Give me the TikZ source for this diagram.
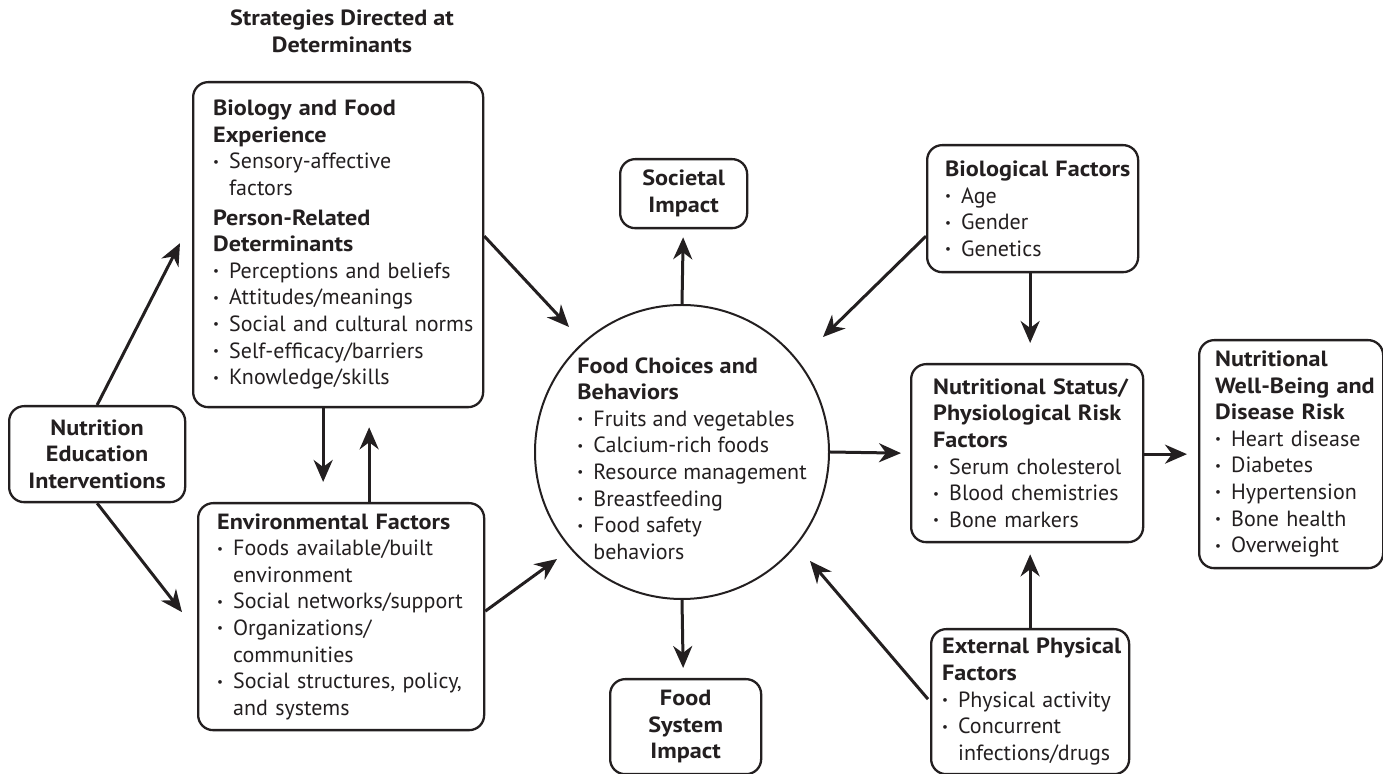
\documentclass[tikz,border=0pt]{standalone}
\usepackage{fontspec}
\setmainfont{PT Sans}[BoldFeatures={FakeStretch=1.1}]
\usepackage{graphicx}
\usetikzlibrary{arrows.meta}
\definecolor{ink}{RGB}{35,31,32}
\newcommand\bl[1]{\mbox{\makebox[8pt][l]{\raisebox{1.3pt}{\scalebox{0.6}{\textbullet}}}#1}}
\newcommand\ind[1]{\mbox{\hspace*{8pt}#1}}
\newcommand\hd[1]{\mbox{\bfseries #1}}
\hfuzz=\maxdimen
\hbadness=10000
\begin{document}
\begin{tikzpicture}[x=0.5pt,y=-0.5pt, color=ink,
  txtfont/.style={font=\fontsize{11}{13.3}\selectfont},
  txtfont,
  box/.style={draw, line width=1.15pt, rounded corners=7.5pt, inner ysep=0pt, align=left, anchor=north west, txtfont},
  cbox/.style={box, align=center, inner xsep=0pt, font=\fontsize{11}{13.3}\selectfont\bfseries},
  arr/.style={line width=1.5pt, -{Stealth[length=11pt,width=9.5pt,inset=3.5pt]}}]
\useasboundingbox (0,0) rectangle (1383,774);

\node[align=center, inner sep=0pt, font=\fontsize{11}{13.3}\selectfont\bfseries] (title) at (342,31.5) {Strategies Directed at\\Determinants};

\node[box, minimum width=145pt, minimum height=162.5pt, text width=125pt, inner xsep=10pt] (bfe) at (192,81) {%
\hd{Biology and Food}\\
\hd{Experience}\\
\bl{Sensory-affective}\\
\ind{factors}\\[1.5pt]
\hd{Person-Related}\\
\hd{Determinants}\\
\bl{Perceptions and beliefs}\\
\bl{Attitudes/meanings}\\
\bl{Social and cultural norms}\\
\bl{Self-efficacy/barriers}\\
\bl{Knowledge/skills}};

\node[box, minimum width=143pt, minimum height=113.5pt, text width=124pt, inner xsep=9.5pt] (env) at (197,502) {%
\hd{Environmental Factors}\\
\bl{Foods available/built}\\
\ind{environment}\\
\bl{Social networks/support}\\
\bl{Organizations/}\\
\ind{communities}\\
\bl{Social structures, policy,}\\
\ind{and systems}};

\node[cbox, minimum width=88pt, minimum height=48pt] (nei) at (8,405) {Nutrition\\Education\\Interventions};
\node[cbox, minimum width=63.5pt, minimum height=34.5pt] (soc) at (619,158) {Societal\\Impact};
\node[cbox, minimum width=75.5pt, minimum height=47.5pt] (fsi) at (609,678) {Food\\System\\Impact};

\node[circle, draw, line width=1pt, minimum size=147pt, inner sep=0pt] (fc) at (682,452) {};
\node[align=left, anchor=west, inner sep=0pt] (fct) at (577,458.5) {%
\hd{Food Choices and}\\
\hd{Behaviors}\\
\bl{Fruits and vegetables}\\
\bl{Calcium-rich foods}\\
\bl{Resource management}\\
\bl{Breastfeeding}\\
\bl{Food safety}\\
\ind{behaviors}};

\node[box, minimum width=105.5pt, minimum height=63.5pt, text width=87.5pt, inner xsep=9pt] (bio) at (926,144) {%
\hd{Biological Factors}\\
\bl{Age}\\
\bl{Gender}\\
\bl{Genetics}};

\node[box, minimum width=116pt, minimum height=89pt, text width=94pt, inner xsep=11pt] (ns) at (910,363) {%
\hd{Nutritional Status/}\\
\hd{Physiological Risk}\\
\hd{Factors}\\
\bl{Serum cholesterol}\\
\bl{Blood chemistries}\\
\bl{Bone markers}};

\node[box, minimum width=92pt, minimum height=114pt, text width=76pt, inner xsep=8pt] (nwb) at (1198,339) {%
\hd{Nutritional}\\
\hd{Well-Being and}\\
\hd{Disease Risk}\\
\bl{Heart disease}\\
\bl{Diabetes}\\
\bl{Hypertension}\\
\bl{Bone health}\\
\bl{Overweight}};

\node[box, minimum width=99pt, minimum height=72.5pt, text width=88pt, inner xsep=5.5pt] (ext) at (930,628) {%
\hd{External Physical}\\
\hd{Factors}\\
\bl{Physical activity}\\
\bl{Concurrent}\\
\ind{infections/drugs}};

% connectors
\draw[arr] (nei.north) -- ([shift={(-12,-1.5)}]bfe.west);
\draw[arr] (nei.south) -- ([shift={(-15,-4.5)}]env.west);
\draw[arr] ([shift={(0,-8.5)}]bfe.east) -- ([shift={(-113,-125)}]fc.center);
\draw[arr] ([shift={(0,-5.5)}]env.east) -- ([shift={(-125,107)}]fc.center);
\draw[arr] ([shift={(-15,0)}]bfe.south) -- ([shift={(-18,-20)}]env.north);
\draw[arr] ([shift={(28,0)}]env.north) -- ([shift={(31,19)}]bfe.south);
\draw[arr] (fc.north) -- ([shift={(-0.5,8)}]soc.south);
\draw[arr] (fc.south) -- ([shift={(-2.5,-10)}]fsi.north);
\draw[arr] (fc.east) -- ([shift={(-9,0)}]ns.west);
\draw[arr] ([shift={(0,27.5)}]bio.west) -- ([shift={(141,-115)}]fc.center);
\draw[arr] ([shift={(-2.5,0)}]bio.south) -- ([shift={(3,-20)}]ns.north);
\draw[arr] ([shift={(-2,-2.5)}]ext.west) -- ([shift={(128,109)}]fc.center);
\draw[arr] (ext.north) -- ([shift={(3,11)}]ns.south);
\draw[arr] ([shift={(0,1)}]ns.east) -- ([shift={(-11,0)}]nwb.west);
\end{tikzpicture}
\end{document}
